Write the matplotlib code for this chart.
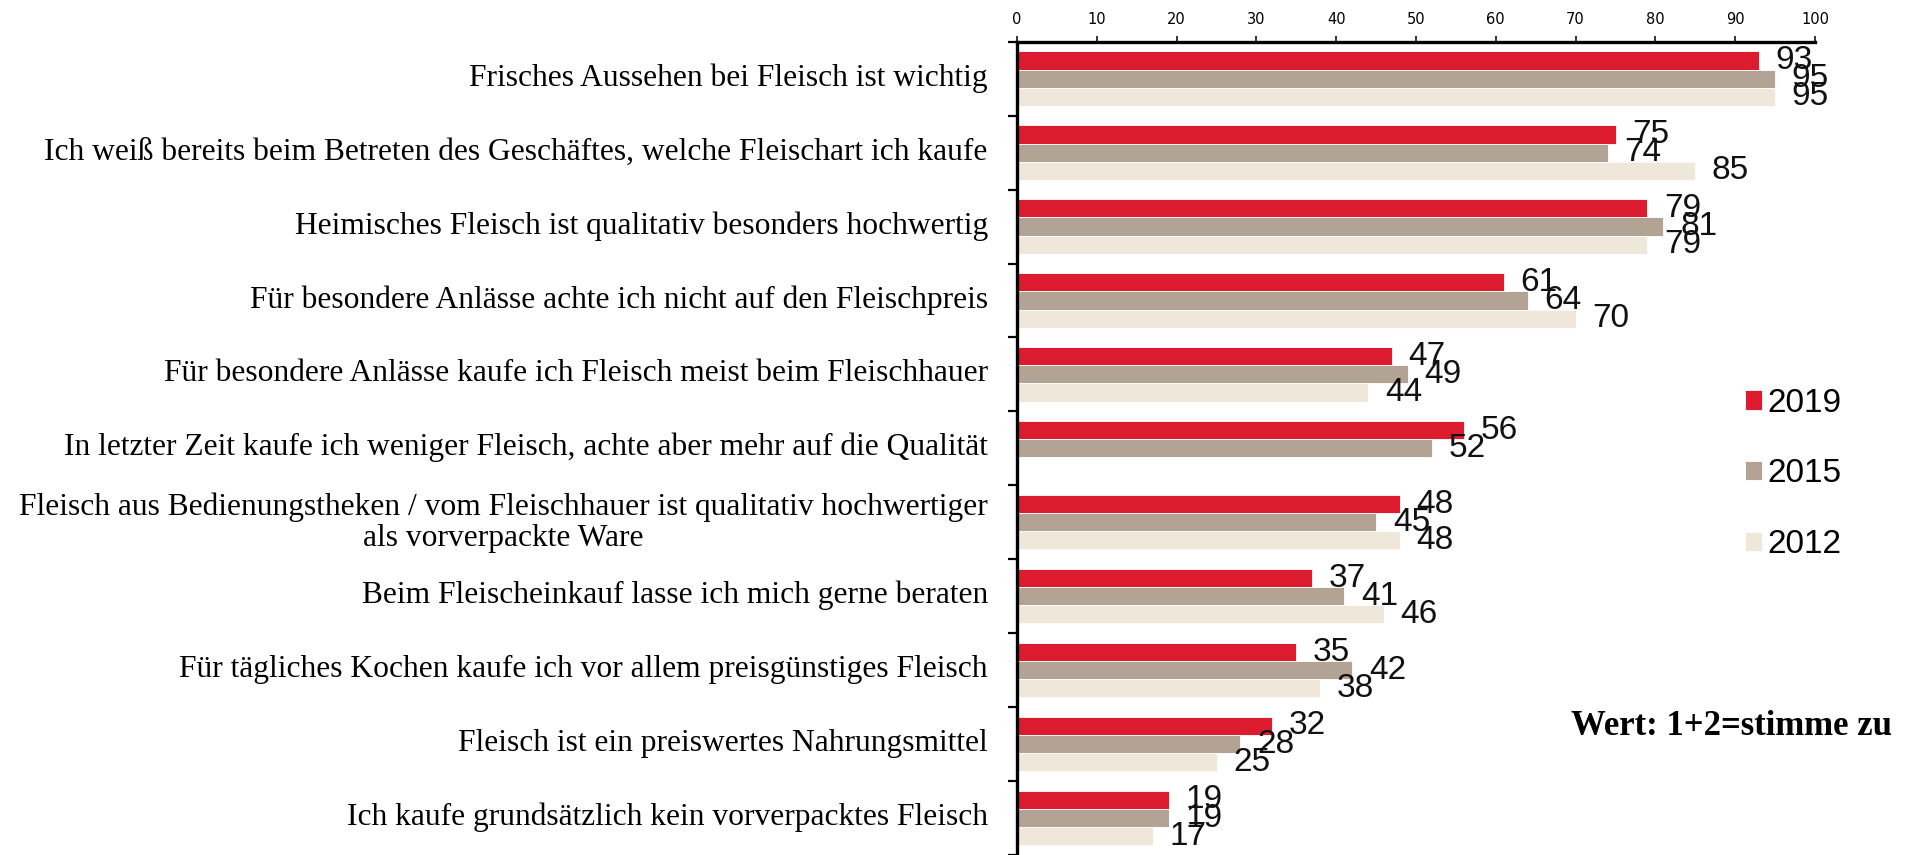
import numpy as np
import matplotlib
matplotlib.use("Agg")
import matplotlib.pyplot as plt
import matplotlib.transforms as mtransforms
from matplotlib import font_manager as fm

categories = [
    "Frisches Aussehen bei Fleisch ist wichtig",
    "Ich weiß bereits beim Betreten des Geschäftes, welche Fleischart ich kaufe",
    "Heimisches Fleisch ist qualitativ besonders hochwertig",
    "Für besondere Anlässe achte ich nicht auf den Fleischpreis",
    "Für besondere Anlässe kaufe ich Fleisch meist beim Fleischhauer",
    "In letzter Zeit kaufe ich weniger Fleisch, achte aber mehr auf die Qualität",
    "Fleisch aus Bedienungstheken / vom Fleischhauer ist qualitativ hochwertiger\nals vorverpackte Ware",
    "Beim Fleischeinkauf lasse ich mich gerne beraten",
    "Für tägliches Kochen kaufe ich vor allem preisgünstiges Fleisch",
    "Fleisch ist ein preiswertes Nahrungsmittel",
    "Ich kaufe grundsätzlich kein vorverpacktes Fleisch",
]
v2019 = [93, 75, 79, 61, 47, 56, 48, 37, 35, 32, 19]
v2015 = [95, 74, 81, 64, 49, 52, 45, 41, 42, 28, 19]
v2012 = [95, 85, 79, 70, 44, np.nan, 48, 46, 38, 25, 17]
years = ["2019", "2015", "2012"]
colors = ["#DC1C2E", "#B3A394", "#F0E7DB"]
xticks = list(range(0, 101, 10))
note = "Wert: 1+2=stimme zu"

avail = {f.name for f in fm.fontManager.ttflist}
def pick(*names):
    for n in names:
        if n in avail:
            return n
    return "DejaVu Sans"

num_font = pick("Liberation Sans", "Arial", "DejaVu Sans")
cat_font = pick("Liberation Serif", "DejaVu Serif")
note_font = pick("Liberation Serif", "DejaVu Serif")

W, H = 1905, 855
fig = plt.figure(figsize=(W / 100, H / 100), dpi=100)
ax = fig.add_axes([1017 / W, 0.0, 798 / W, 1 - 41.7 / H])

y = np.arange(len(categories))
h = 0.245
series = [v2019, v2015, v2012]
handles = []
for k, (vals, c, yr) in enumerate(zip(series, colors, years)):
    bars = ax.barh(y + (k - 1) * h, vals, height=h, color=c,
                   edgecolor="white", linewidth=0.6, label=yr)
    handles.append(bars)
    labels = ["" if np.isnan(v) else f"{v:g}" for v in vals]
    ax.bar_label(bars, labels=labels, padding=12, fontsize=24,
                 fontfamily=num_font, color="#111111")

ax.set_xlim(0, 100)
ax.set_ylim(len(categories) - 0.5, -0.5)

ax.xaxis.tick_top()
ax.set_xticks(xticks)
ax.set_xticklabels([str(t) for t in xticks], fontsize=10.5, fontfamily="DejaVu Sans")
ax.tick_params(axis="x", direction="out", length=4.5, width=1.1, pad=6, colors="black")

ax.set_yticks(y)
ax.set_yticklabels(categories, fontsize=22.7, fontfamily=cat_font,
                   multialignment="center", linespacing=1.1)
ax.set_yticks(np.arange(-0.5, len(categories), 1), minor=True)
ax.tick_params(axis="y", which="major", length=0, pad=21)
ax.tick_params(axis="y", which="minor", length=6.5, width=1.6, direction="out")
shift = mtransforms.ScaledTranslation(0, 3 / 72, fig.dpi_scale_trans)
for lab in ax.get_yticklabels():
    lab.set_transform(lab.get_transform() + shift)

for s in ["right", "bottom"]:
    ax.spines[s].set_visible(False)
for s in ["top", "left"]:
    ax.spines[s].set_linewidth(2.4)

leg = fig.legend(handles=handles, labels=years, loc="center left",
                 bbox_to_anchor=(1745 / W, 1 - 474 / H), frameon=False,
                 prop={"family": num_font, "size": 24},
                 handlelength=0.52, handleheight=0.52, handletextpad=0.16,
                 labelspacing=1.19, borderpad=0, borderaxespad=0)

fig.text(1892 / W, 1 - 726 / H, note, ha="right", va="center",
         fontsize=25, fontweight="bold", fontfamily=note_font)

fig.savefig("out.png", dpi=100)
